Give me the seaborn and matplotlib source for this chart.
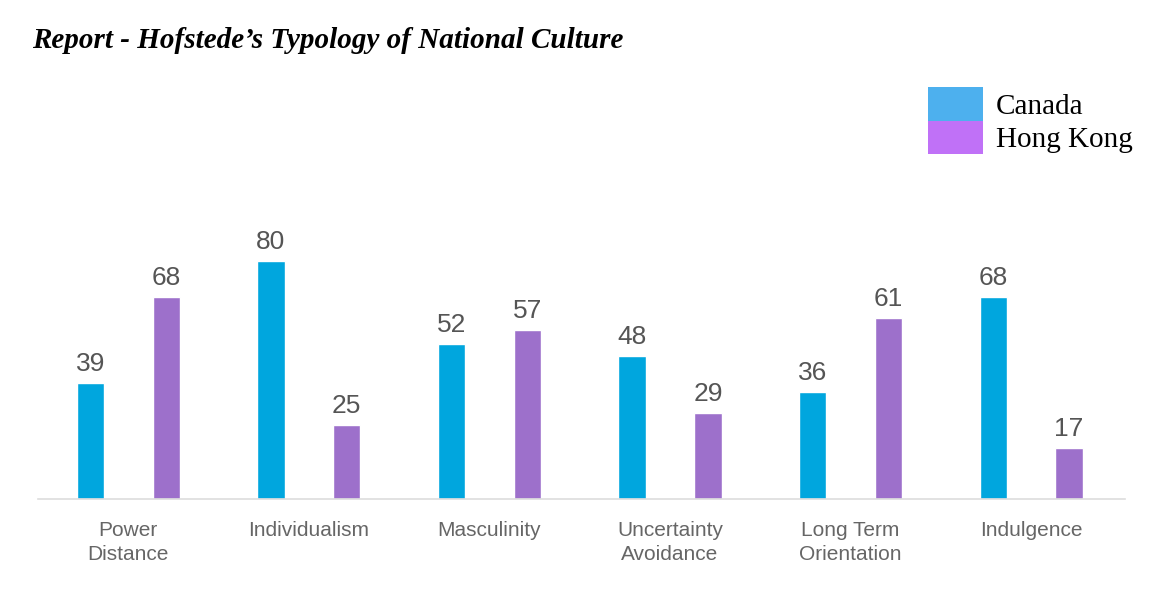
import pandas as pd
import seaborn as sns
import matplotlib.pyplot as plt
from matplotlib.patches import Patch

# Hofstede scores
dimensions = [
    "Power\nDistance",
    "Individualism",
    "Masculinity",
    "Uncertainty\nAvoidance",
    "Long Term\nOrientation",
    "Indulgence",
]
canada = [39, 80, 52, 48, 36, 68]
hong_kong = [68, 25, 57, 29, 61, 17]
countries = ["Canada", "Hong Kong"]

bar_colors = ["#00A6DE", "#9D70CB"]
legend_colors = ["#4DB0EE", "#C071F7"]

data = pd.DataFrame(
    {
        "Dimension": dimensions * 2,
        "Score": canada + hong_kong,
        "Country": [countries[0]] * len(canada) + [countries[1]] * len(hong_kong),
    }
)

sns.set_style("white")
plt.rcParams["font.family"] = ["Liberation Sans", "DejaVu Sans"]

fig = plt.figure(figsize=(11.72, 6.08), dpi=100)
ax = fig.add_axes([0.0324, 0.1793, 0.9275, 0.489])

sns.barplot(
    data=data,
    x="Dimension",
    y="Score",
    hue="Country",
    palette=bar_colors,
    width=0.84,
    gap=0.64,
    saturation=1,
    legend=False,
    ax=ax,
)

# Value labels above the bars
for container in ax.containers:
    ax.bar_label(container, padding=5, fontsize=19, color="#555555")

ax.set_xlim(-0.5, 5.52)
ax.set_ylim(0, 100)
ax.set_xlabel("")
ax.set_ylabel("")
ax.set_yticks([])
ax.tick_params(axis="x", length=0, pad=16, labelsize=15, labelcolor="#666666")
for lbl in ax.get_xticklabels():
    lbl.set_linespacing(1.3)
    lbl.set_verticalalignment("top")

sns.despine(ax=ax, left=True)
ax.spines["bottom"].set_color("#DDDDDD")
ax.spines["bottom"].set_linewidth(1.2)

# Title
fig.text(
    0.0273,
    0.921,
    "Report - Hofstede\u2019s Typology of National Culture",
    fontsize=21,
    fontweight="bold",
    fontstyle="italic",
    family=["Liberation Serif", "DejaVu Serif"],
    color="black",
    va="baseline",
    ha="left",
)

# Legend
handles = [Patch(facecolor=c, edgecolor="none") for c in legend_colors]
fig.legend(
    handles,
    countries,
    loc="upper left",
    bbox_to_anchor=(928 / 1172, 1 - 87 / 608),
    frameon=False,
    borderpad=0,
    borderaxespad=0,
    labelspacing=0,
    handlelength=1.886,
    handleheight=1.4,
    handletextpad=0.45,
    labelcolor="black",
    prop={"family": "Liberation Serif", "size": 21},
)

fig.savefig("out.png", dpi=100)
